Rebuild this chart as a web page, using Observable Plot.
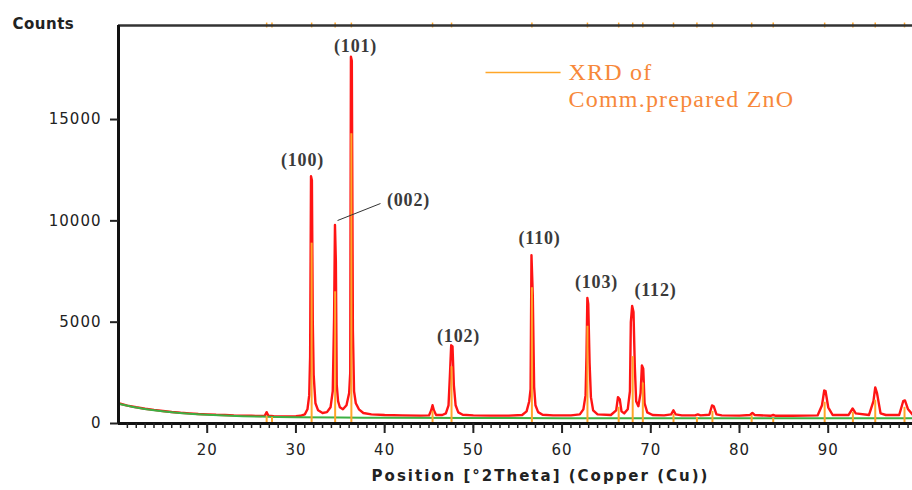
<!DOCTYPE html>
<html><head><meta charset="utf-8">
<script src="https://cdn.jsdelivr.net/npm/d3@7"></script>
<script src="https://cdn.jsdelivr.net/npm/@observablehq/plot@0.6"></script>
<style>
body{margin:0;background:#fff;}
</style></head><body><div id="chart"></div>
<script>
// Measured pattern (red)
const redTheta = [10,11,12,13,14,15,16,17,18,19,20,21,22,23,24,25,26,26.5,26.7,26.9,27.5,28,29,30,30.5,
 31.0,31.3,31.5,31.6,31.7,31.8,31.9,32.0,32.2,32.5,33.0,33.5,33.9,34.15,34.3,34.4,34.5,34.6,34.75,34.95,35.3,35.7,36.0,36.12,36.2,36.3,36.42,36.55,36.75,37.1,37.6,38.5,40,42,44,
 45.0,45.25,45.4,45.55,45.8,46.5,46.9,47.2,47.35,47.5,47.65,47.8,48.0,48.3,48.8,50,52,54,
 55.5,56.0,56.3,56.45,56.55,56.7,56.85,57.0,57.3,57.8,59,61,
 62.0,62.4,62.65,62.75,62.85,62.95,63.1,63.25,63.5,64.0,65.5,66.1,66.3,66.5,66.7,67.0,
 67.4,67.65,67.75,67.9,68.05,68.2,68.35,68.6,68.85,69.0,69.15,69.3,69.6,70.2,71.5,72.3,72.55,72.8,73.5,75,75.3,75.6,76.6,76.9,77.1,77.4,78,80,81.2,81.45,81.7,83.5,83.8,84.1,86,88.8,89.3,89.55,89.7,90.0,90.5,92.3,92.75,93.1,94.6,95.1,95.3,95.5,95.9,96.5,98.0,98.45,98.65,99.0,99.5];
const redCounts = [1000,880,800,730,670,620,570,530,500,470,450,430,420,400,390,380,370,390,560,380,360,350,350,360,380,
 450,700,1400,3300,12200,12000,5000,2400,1000,650,520,560,800,1600,5200,9800,8000,1900,1100,800,700,900,1500,2500,18100,17900,4600,1600,1000,700,520,450,420,400,390,
 400,650,900,650,420,420,500,900,2300,3860,3800,1900,900,550,430,400,390,390,
 420,600,1100,1700,8300,6300,1800,900,560,430,400,400,
 450,700,1400,3300,6200,5900,3000,1300,650,450,420,650,1300,1200,600,500,
 700,1600,5000,5800,5500,2800,1100,850,1500,2870,2700,1000,550,420,400,450,650,450,400,400,450,400,430,890,850,450,400,390,420,520,420,380,420,380,380,400,900,1630,1600,800,420,420,740,500,420,1100,1780,1500,500,420,420,1100,1140,700,450];
// Fitted background (green)
const greenTheta = [10,12,14,16,18,20,22,24,26,28,30,35,40,50,60,70,80,90,99.5];
const greenCounts = [980,790,650,550,480,430,390,360,340,320,310,290,280,270,265,260,260,260,260];
// Reference pattern sticks (orange)
const stickTheta = [26.7,27.3,31.77,34.42,36.25,45.4,47.54,56.6,62.86,66.38,67.96,69.1,72.56,75.2,76.95,81.37,83.8,89.6,92.78,95.3,98.6];
const stickCounts = [350,300,8900,6500,14300,600,2800,6700,4800,800,3300,2000,450,300,600,400,250,1050,550,1150,800];
// Peak labels
const peakLabels = ["(100)","(101)","(002)","(102)","(110)","(103)","(112)"];
const labelTheta = [30.74,36.72,42.69,48.33,57.46,63.88,70.53];
const labelCounts = [12977,18600,11003,4293,9128,6957,6562];
// Axis ticks
const yTicks = [0,5000,10000,15000];
const xMajor = [20,30,40,50,60,70,80,90];
const xMinor = d3.range(11,100);
const legendLines = ["XRD of","Comm.prepared ZnO"];

const red = redTheta.map((x,i)=>({x, y: redCounts[i]}));
const green = greenTheta.map((x,i)=>({x, y: greenCounts[i]}));
const sticks = stickTheta.map((x,i)=>({x, y: stickCounts[i]}));
const labels = peakLabels.map((t,i)=>({t, x: labelTheta[i], y: labelCounts[i]}));
const YMAX = 19640;
const orange = "#ffa629";

const chart = Plot.plot({
  width: 912, height: 490,
  marginLeft: 118, marginRight: 0, marginTop: 25, marginBottom: 67,
  x: {domain: [10, 99.5]},
  y: {domain: [0, YMAX]},
  style: {background: "white", fontFamily: "DejaVu Sans", color: "#222"},
  marks: [
    Plot.line(red, {x: "x", y: "y", stroke: "#ff1414", strokeWidth: 2.4}),
    Plot.line(green, {x: "x", y: "y", stroke: "#3cb043", strokeWidth: 2, curve: "monotone-x"}),
    Plot.ruleX(sticks, {x: "x", y1: 0, y2: "y", stroke: orange, strokeWidth: 2}),
    Plot.ruleX(stickTheta, {x: d => d, y1: YMAX - 120, y2: YMAX + 120, stroke: orange, strokeWidth: 1.5}),
    Plot.ruleY([YMAX], {stroke: "#333", strokeWidth: 2.5}),
    Plot.ruleY([0], {stroke: "#111", strokeWidth: 3}),
    Plot.ruleX([10], {stroke: "#111", strokeWidth: 3}),
    Plot.axisY({ticks: yTicks, tickSize: 8, tickPadding: 9, fontSize: 15, tickFormat: "d", label: null, strokeWidth: 2}),
    Plot.axisX({ticks: xMinor, tickSize: 5, tickFormat: () => "", label: null, strokeWidth: 1.5}),
    Plot.axisX({ticks: xMajor, tickSize: 10, tickPadding: 11, fontSize: 15, tickFormat: "d", label: null, strokeWidth: 2}),
    Plot.text(labels, {x: "x", y: "y", text: "t", fontFamily: "Liberation Serif", fontSize: 18, fontWeight: "bold", fill: "#3a3a3a"}),
    Plot.link([{x1: 34.69, y1: 10016, x2: 39.53, y2: 10855}], {x1: "x1", y1: "y1", x2: "x2", y2: "y2", stroke: "#333", strokeWidth: 1}),
    Plot.link([{x1: 51.37, x2: 59.83, y: 17319}], {x1: "x1", x2: "x2", y1: "y", y2: "y", stroke: orange, strokeWidth: 1.5}),
    Plot.text(legendLines, {x: 60.73, y: (d,i) => [17319, 15987][i], text: d => d, textAnchor: "start", fontFamily: "Liberation Serif", fontSize: 24, fill: "#f7883a"}),
    Plot.text(["Counts"], {frameAnchor: "top-left", dx: -106, dy: -7, textAnchor: "start", fontSize: 15, fontWeight: "bold", fill: "#222"}),
    Plot.text(["Position [°2Theta] (Copper (Cu))"], {frameAnchor: "bottom", dx: 25, dy: 57, fontSize: 15, fontWeight: "bold", fill: "#222"})
  ]
});
document.getElementById("chart").appendChild(chart);
d3.select(chart).selectAll("text").each(function(){
  const t = this.textContent;
  if (t === "Counts") this.style.letterSpacing = "0.5px";
  else if (t.startsWith("Position")) this.style.letterSpacing = "2px";
  else if (t.startsWith("(")) this.style.letterSpacing = "0.8px";
  else if (t === "Comm.prepared ZnO" || t === "XRD of") this.style.letterSpacing = "1.2px";
  else if (/^\d+$/.test(t)) this.style.letterSpacing = "1px";
});
</script></body></html>
